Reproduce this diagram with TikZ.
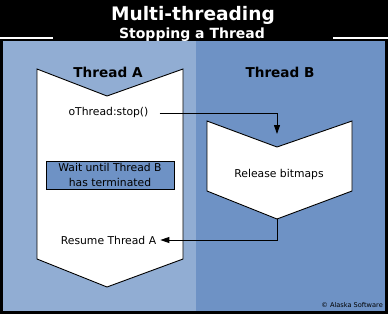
\documentclass[tikz,border=0pt]{standalone}
\usepackage{fontspec}
\setmainfont{DejaVu Sans}
\usetikzlibrary{arrows.meta}
\definecolor{lightpanel}{RGB}{145,173,211}
\definecolor{darkpanel}{RGB}{110,146,197}
\tikzset{
  threadshape/.style={draw=black, fill=white, line width=0.9pt, line join=miter},
  heading/.style={font=\bfseries\fontsize{13.6}{15}\selectfont, text=black, inner sep=0pt, anchor=base},
  txtlabel/.style={font=\fontsize{10.8}{15}\selectfont, text=black, inner sep=0pt},
  conn/.style={draw=black, line width=0.9pt, -{Triangle[length=9pt,width=6pt]}},
}
\begin{document}
\begin{tikzpicture}[x=1pt,y=-1pt]
  % background and panels
  \fill[black] (0,0) rectangle (388,314);
  \useasboundingbox (0,0) rectangle (388,314);
  \fill[lightpanel] (3,40.5) rectangle (196,311);
  \fill[darkpanel] (196,40.5) rectangle (385,311);
  \draw[white, line width=2pt] (0,38) -- (53,38);
  \draw[white, line width=2pt] (333,38) -- (388,38);
  % title
  \node[font=\bfseries\fontsize{18.6}{20}\selectfont, text=white, inner sep=0pt, anchor=base] (title) at (193,20) {Multi-threading};
  \node[font=\bfseries\fontsize{14}{16}\selectfont, text=white, inner sep=0pt, anchor=base] (subtitle) at (192,38.5) {Stopping a Thread};
  % thread shapes
  \draw[threadshape] (37,69) -- (107,96) -- (183,69) -- (183,259) -- (107,287) -- (37,259) -- cycle;
  \draw[threadshape] (207,121) -- (277,147) -- (352,121) -- (352,191) -- (277,219) -- (207,191) -- cycle;
  \coordinate (btip) at (277,134);
  \coordinate (bbot) at (277,219);
  % headings
  \node[heading] (tha) at (108,77) {Thread A};
  \node[heading] (thb) at (280,77) {Thread B};
  % labels
  \node[txtlabel] (stop) at (108.5,113) {oThread:stop()};
  \node[txtlabel, draw=black, line width=0.9pt, fill=darkpanel, align=center,
        minimum width=128pt, minimum height=28pt] (wait) at (110,175)
        {Wait until Thread B\\has terminated};
  \node[txtlabel] (release) at (279,175) {Release bitmaps};
  \node[txtlabel] (resume) at (108.5,240) {Resume Thread A};
  \node[font=\fontsize{6.6}{8}\selectfont, text=black, inner sep=0pt, anchor=east] (copy) at (383,305) {© Alaska Software};
  % connectors
  \draw[conn] ([xshift=11pt]stop.east) -| (btip);
  \draw[conn] (bbot) |- ([xshift=4pt]resume.east);
\end{tikzpicture}
\end{document}
